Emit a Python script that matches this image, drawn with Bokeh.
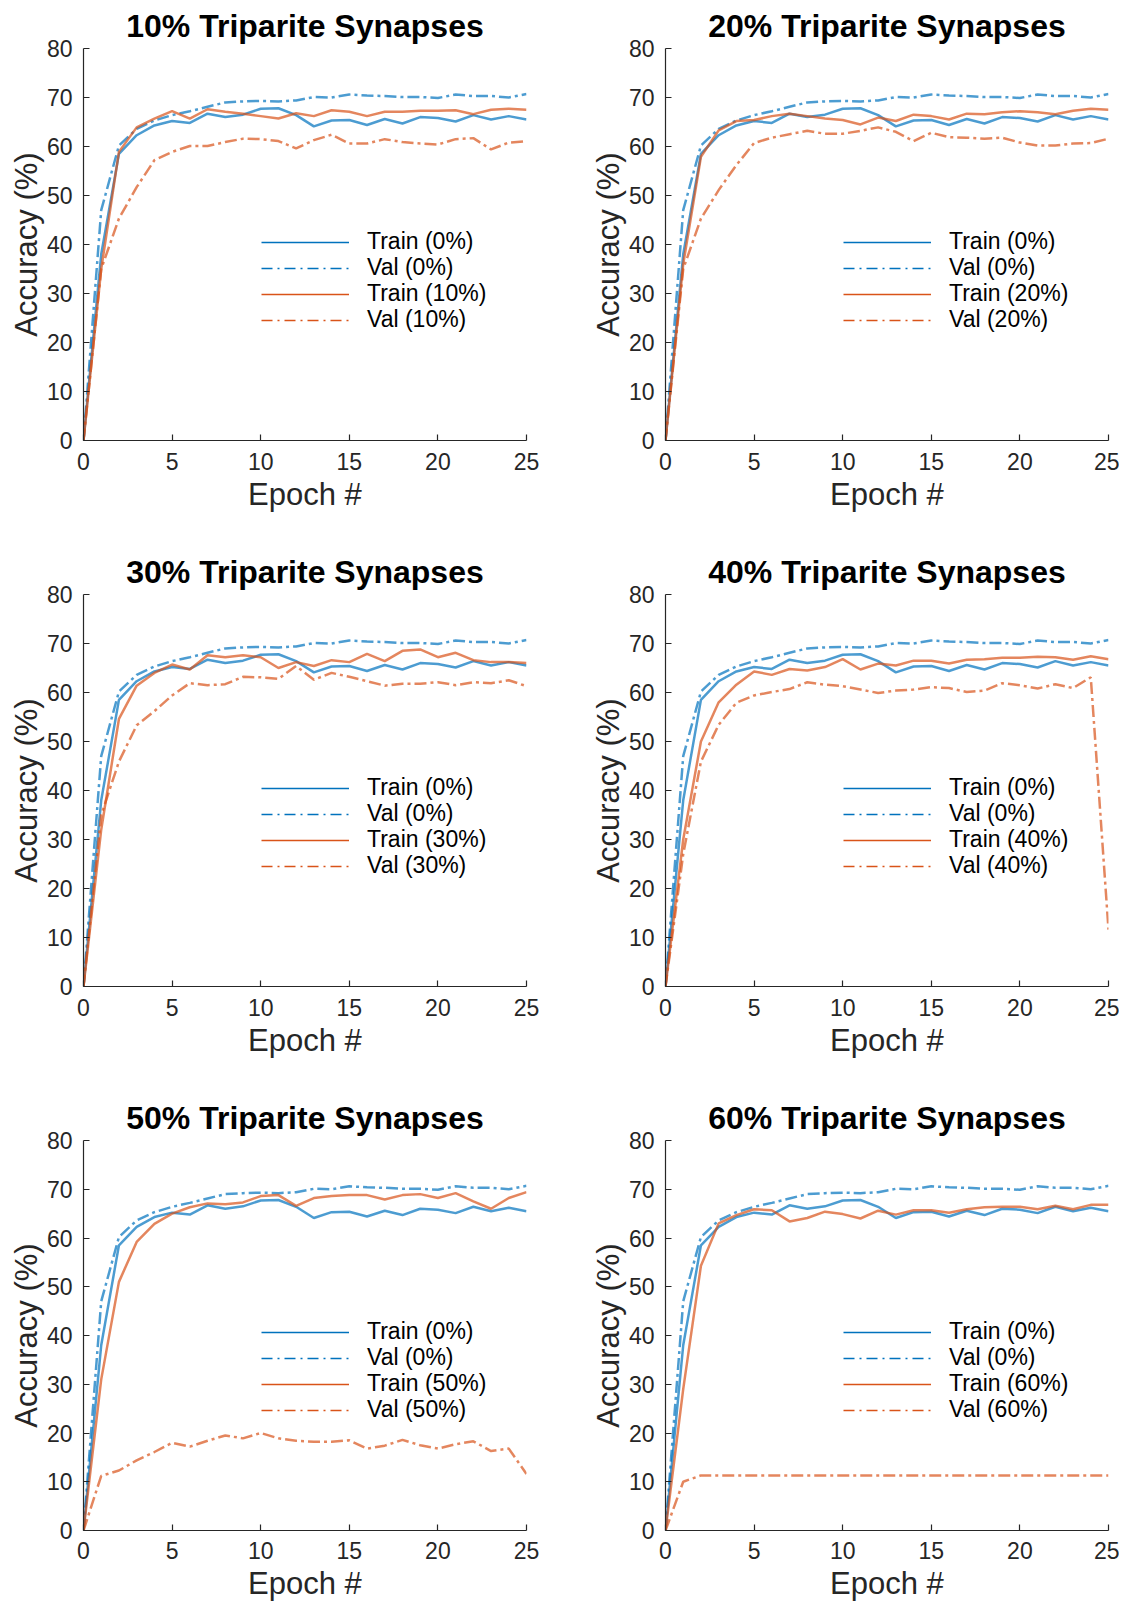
from bokeh.plotting import figure
from bokeh.models import Range1d, Legend, LegendItem, FixedTicker
from bokeh.layouts import column, row
from bokeh.embed import file_html
from bokeh.resources import INLINE

epochs = list(range(26))

train_0 = [0, 38, 58.5, 62.3, 64.3, 65.2, 64.8, 66.7, 66.0, 66.5, 67.7, 67.8, 66.4, 64.1, 65.3,
           65.4, 64.4, 65.6, 64.7, 66.0, 65.8, 65.1, 66.4, 65.5, 66.2, 65.5]
val_0 = [0, 47, 60.2, 63.6, 65.3, 66.4, 67.2, 68.1, 69.0, 69.2, 69.3, 69.2, 69.4, 70.1, 70.0,
         70.6, 70.4, 70.3, 70.1, 70.1, 69.9, 70.6, 70.3, 70.3, 70.0, 70.7]

train_10 = [0, 35, 58.9, 63.9, 65.7, 67.2, 65.7, 67.6, 67.1, 66.7, 66.2, 65.7, 66.8, 66.2, 67.4,
            67.1, 66.2, 67.1, 67.1, 67.3, 67.3, 67.4, 66.6, 67.5, 67.7, 67.5]
val_10 = [0, 35, 45.3, 51.7, 57.2, 58.9, 60.1, 60.1, 60.9, 61.6, 61.5, 61.1, 59.6, 61.3, 62.4,
          60.6, 60.6, 61.5, 60.9, 60.6, 60.4, 61.5, 61.7, 59.4, 60.8, 61.1]

train_20 = [0, 36, 57.9, 63.3, 65.2, 65.4, 66.2, 66.7, 66.2, 65.7, 65.4, 64.5, 65.9, 65.2, 66.5,
            66.2, 65.5, 66.7, 66.6, 67.0, 67.2, 67.0, 66.6, 67.3, 67.7, 67.5]
val_20 = [0, 35, 45.3, 51.1, 56.2, 60.7, 61.8, 62.5, 63.2, 62.6, 62.6, 63.2, 63.9, 63.0, 61.1,
          62.8, 61.9, 61.8, 61.6, 61.8, 60.8, 60.2, 60.2, 60.6, 60.7, 61.6]

train_30 = [0, 32, 54.6, 61.4, 64.0, 65.7, 64.7, 67.6, 67.2, 67.6, 67.2, 65.0, 66.2, 65.4, 66.6,
            66.2, 67.9, 66.4, 68.5, 68.8, 67.2, 68.1, 66.6, 66.2, 66.2, 66.0]
val_30 = [0, 35, 45.9, 53.3, 56.2, 59.4, 61.9, 61.5, 61.7, 63.2, 63.1, 62.8, 65.4, 62.6, 64.0,
          63.2, 62.3, 61.4, 61.8, 61.8, 62.1, 61.5, 62.1, 61.9, 62.5, 61.3]

train_40 = [0, 30, 50.0, 58.0, 61.6, 64.3, 63.6, 64.8, 64.5, 65.2, 66.8, 64.7, 65.9, 65.5, 66.5,
            66.5, 65.9, 66.7, 66.8, 67.1, 67.1, 67.3, 67.2, 66.7, 67.4, 66.8]
val_40 = [0, 27, 45.9, 53.4, 57.9, 59.4, 60.1, 60.7, 62.1, 61.6, 61.3, 60.6, 59.9, 60.4, 60.6,
          61.1, 60.9, 60.1, 60.4, 61.9, 61.5, 60.8, 61.7, 60.9, 63.1, 11.6]

train_50 = [0, 31, 51.0, 59.2, 62.9, 65.0, 66.3, 67.1, 66.9, 67.3, 68.6, 68.8, 66.6, 68.2, 68.6,
            68.8, 68.8, 67.9, 68.8, 69.0, 68.2, 69.2, 67.5, 66.0, 68.2, 69.4]
val_50 = [0, 11.2, 12.3, 14.4, 16.1, 18.0, 17.2, 18.4, 19.5, 18.9, 20.0, 18.9, 18.4, 18.2, 18.2,
          18.5, 16.8, 17.4, 18.6, 17.5, 16.8, 17.7, 18.3, 16.3, 16.8, 11.6]

train_60 = [0, 29, 54.3, 63.0, 64.7, 65.9, 65.7, 63.4, 64.1, 65.4, 64.9, 64.0, 65.6, 64.8, 65.7,
            65.7, 65.2, 65.9, 66.3, 66.4, 66.4, 65.9, 66.6, 65.9, 66.8, 66.8]
val_60 = [0, 10.0, 11.3, 11.3, 11.3, 11.3, 11.3, 11.3, 11.3, 11.3, 11.3, 11.3, 11.3, 11.3, 11.3,
          11.3, 11.3, 11.3, 11.3, 11.3, 11.3, 11.3, 11.3, 11.3, 11.3, 11.3]

percents = ["10%", "20%", "30%", "40%", "50%", "60%"]
trains = [train_10, train_20, train_30, train_40, train_50, train_60]
vals = [val_10, val_20, val_30, val_40, val_50, val_60]

x_ticks = [0, 5, 10, 15, 20, 25]
y_ticks = [0, 10, 20, 30, 40, 50, 60, 70, 80]

BLUE = "#0072BD"
ORANGE = "#D95319"
INK = "#262626"
FONT = "Liberation Sans"
DASH = "12 4 3 4"
LEG_DASH = "11 5 2 5"


def make_panel(idx):
    col = idx % 2
    r = idx // 2
    width = 578 if col == 0 else 541
    height = [546, 546, 511][r]
    p = figure(width=width, height=height, output_backend="svg", toolbar_location=None,
               x_range=Range1d(0, 25), y_range=Range1d(0, 80),
               min_border_left=83 if col == 0 else 87,
               min_border_right=52 if col == 0 else 11,
               min_border_top=48,
               min_border_bottom=[106, 106, 71][r])
    p.outline_line_color = None
    p.grid.visible = False
    p.background_fill_color = "white"
    p.border_fill_color = "white"

    p.title.text = percents[idx] + " Triparite Synapses"
    p.title.text_font = FONT
    p.title.text_font_style = "bold"
    p.title.text_font_size = "32px"
    p.title.text_color = "black"
    p.title.align = "center"
    p.title.standoff = 10

    for ax in (p.xaxis[0], p.yaxis[0]):
        ax.axis_line_color = INK
        ax.axis_line_width = 1.2
        ax.major_tick_line_color = INK
        ax.major_tick_line_width = 1.2
        ax.major_tick_in = 6
        ax.major_tick_out = 0
        ax.minor_tick_line_color = None
        ax.major_label_text_font = FONT
        ax.major_label_text_font_size = "23px"
        ax.major_label_text_color = INK
        ax.axis_label_text_font = FONT
        ax.axis_label_text_font_size = "31px"
        ax.axis_label_text_font_style = "normal"
        ax.axis_label_text_color = INK
    p.xaxis[0].ticker = FixedTicker(ticks=x_ticks)
    p.yaxis[0].ticker = FixedTicker(ticks=y_ticks)
    p.xaxis[0].axis_label = "Epoch #"
    p.yaxis[0].axis_label = "Accuracy (%)"
    p.xaxis[0].major_label_standoff = 12 if r < 2 else 11
    p.xaxis[0].axis_label_standoff = 4
    p.yaxis[0].major_label_standoff = 11
    p.yaxis[0].axis_label_standoff = 0

    p.line(epochs, train_0, line_color=BLUE, line_alpha=0.7, line_width=2.5)
    p.line(epochs, val_0, line_color=BLUE, line_alpha=0.7, line_width=2.5, line_dash=DASH)
    p.line(epochs, trains[idx], line_color=ORANGE, line_alpha=0.7, line_width=2.5)
    p.line(epochs, vals[idx], line_color=ORANGE, line_alpha=0.7, line_width=2.5, line_dash=DASH)

    # legend swatch renderers (hidden in the plot, shown only in the legend)
    l1 = p.line(epochs, train_0, line_color=BLUE, line_width=1.6, visible=False)
    l2 = p.line(epochs, val_0, line_color=BLUE, line_width=1.6, line_dash=LEG_DASH, visible=False)
    l3 = p.line(epochs, trains[idx], line_color=ORANGE, line_width=1.6, visible=False)
    l4 = p.line(epochs, vals[idx], line_color=ORANGE, line_width=1.6, line_dash=LEG_DASH, visible=False)
    labels = ["Train (0%)", "Val (0%)", "Train (" + percents[idx] + ")", "Val (" + percents[idx] + ")"]
    rends = [l1, l2, l3, l4]
    offsets = [185, 159, 133, 107]
    # one single-entry legend per row gives the tight MATLAB-like row pitch
    for lab, rend, off in zip(labels, rends, offsets):
        legend = Legend(items=[LegendItem(label=lab, renderers=[rend])], location=(178, off))
        legend.border_line_color = None
        legend.background_fill_alpha = 0
        legend.padding = 0
        legend.margin = 0
        legend.spacing = 0
        legend.glyph_width = 88
        legend.glyph_height = 18
        legend.label_height = 18
        legend.label_standoff = 18
        legend.label_text_font = FONT
        legend.label_text_font_size = "23px"
        legend.label_text_color = "black"
        p.add_layout(legend)
    return p


panels = [make_panel(i) for i in range(6)]
layout = column(row(panels[0], panels[1]), row(panels[2], panels[3]), row(panels[4], panels[5]))

open("out.html", "w").write(file_html(layout, INLINE))
